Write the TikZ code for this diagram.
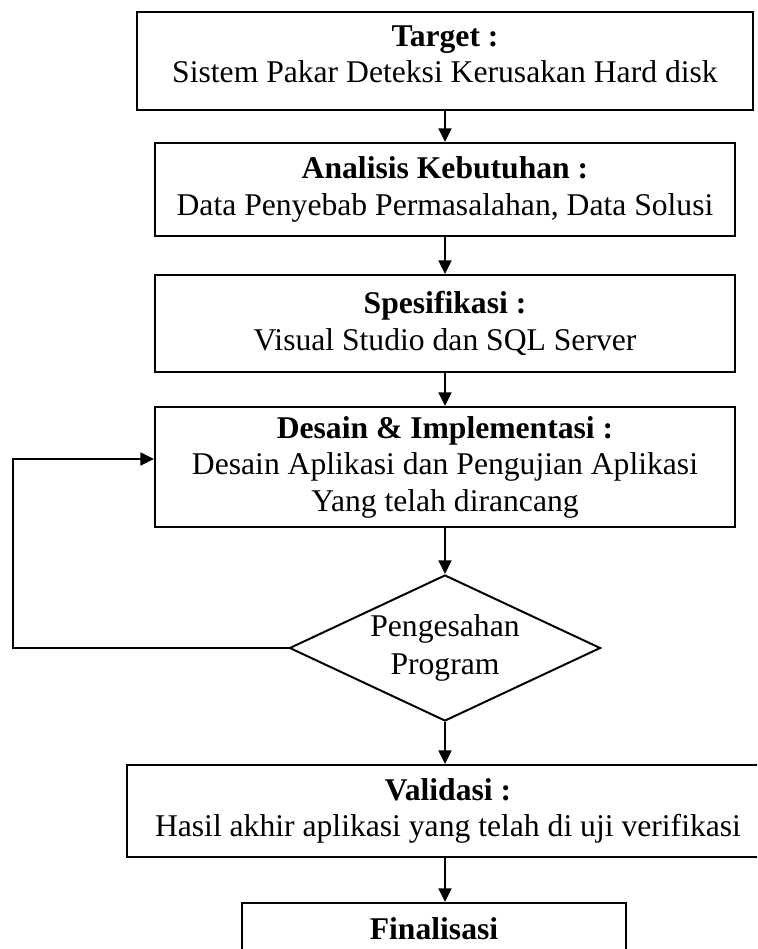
\documentclass[tikz,border=0pt]{standalone}
\usepackage{fontspec}
\setmainfont{Liberation Serif}
\usetikzlibrary{arrows.meta,positioning,shapes.geometric}

\begin{document}
\begin{tikzpicture}[
  box/.style     ={draw, line width=1.4pt, align=center, inner sep=2pt,
                   font=\fontsize{22.5}{26}\selectfont},
  stagebox/.style={box, minimum width=14.5cm},
  decision/.style={diamond, draw, line width=1.4pt, aspect=2.13, inner sep=0pt,
                   minimum width=7.775cm, minimum height=3.65cm, align=center,
                   font=\fontsize{22.5}{26.5}\selectfont},
  arr/.style     ={-{Triangle[length=0.34cm,width=0.32cm]}, line width=1.4pt}
]
\useasboundingbox (0,0) rectangle (18.925,-23.725);
\clip (0,0) rectangle (18.925,-23.725);

%%% ---- MAIN COLUMN ---------------------------------------------------
\node[box, minimum width=15.4cm, minimum height=2.45cm] (target) at (11.125,-1.525)
  {\textbf{Target :}\\Sistem Pakar Deteksi Kerusakan Hard disk\rule[-10pt]{0pt}{10pt}};
\node[stagebox, minimum height=2.325cm] (analisis) at (11.125,-4.7375)
  {\textbf{Analisis Kebutuhan :}\\Data Penyebab Permasalahan, Data Solusi};
\node[stagebox, minimum height=2.425cm] (spek) at (11.125,-8.0875)
  {\textbf{Spesifikasi :}\\Visual Studio dan SQL Server};
\node[stagebox, minimum height=3.0cm] (desain) at (11.125,-11.675)
  {\textbf{Desain \& Implementasi :}\\Desain Aplikasi dan Pengujian Aplikasi\\Yang telah dirancang};

% decision
\node[decision] (sah) at (11.125,-16.2) {Pengesahan\\Program};

% lower boxes (cut by the page edge)
\node[box, minimum width=16.05cm, minimum height=2.3cm] (validasi) at (11.2,-20.275)
  {\textbf{Validasi :}\\Hasil akhir aplikasi yang telah di uji verifikasi};
\node[box, minimum width=9.6cm, minimum height=1.3cm] (final) at (10.85,-23.225)
  {\textbf{Finalisasi}};

%%% ---- ARROWS ----------------------------------------------------------
\draw[arr] (target)   -- (analisis);
\draw[arr] (analisis) -- (spek);
\draw[arr] (spek)     -- (desain);
\draw[arr] (desain)   -- (sah);
\draw[arr] (sah.south) -- (sah.south |- validasi.north);
\draw[arr] (validasi.south -| sah.south) -- (final.north -| sah.south);

% back loop to the design step
\coordinate (back) at (0.325,-11.475);
\draw[arr] (sah.west) -| (back) -- (back -| desain.west);

\end{tikzpicture}
\end{document}
